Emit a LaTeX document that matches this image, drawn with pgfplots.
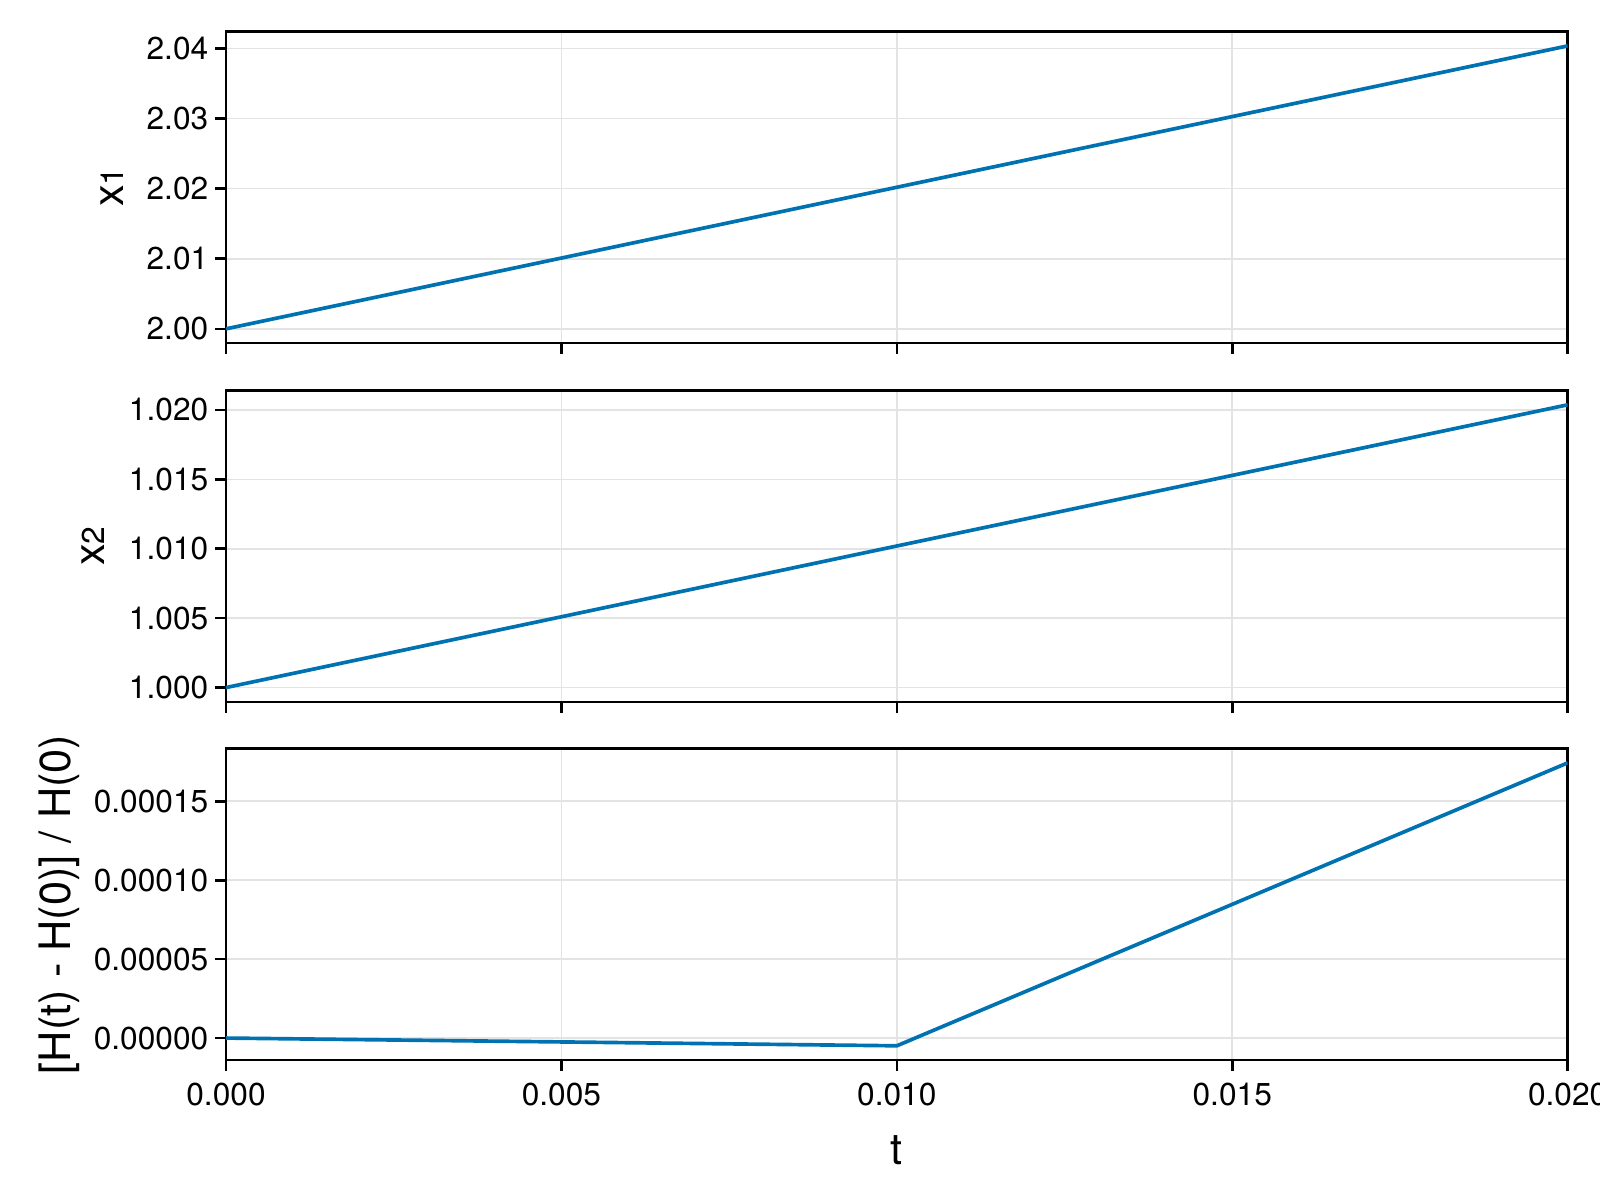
\documentclass[border=0pt]{standalone}
\usepackage{fontspec}
\setmainfont{TeX Gyre Heros}
\usepackage{pgfplots}
\pgfplotsset{compat=1.18}
\definecolor{mkblue}{HTML}{0072B2}
\definecolor{gridgray}{HTML}{E3E3E3}

\pgfplotsset{
  panel/.style={
    scale only axis, width=402.5pt, height=93.4pt,
    xmin=0, xmax=0.02,
    xtick={0,0.005,0.01,0.015,0.02},
    axis line style={line width=0.8pt},
    tick align=outside, major tick length=3.3pt,
    major tick style={black, line width=0.8pt},
    tick pos=left,
    grid=major, major grid style={gridgray, line width=0.5pt},
    scaled y ticks=false, scaled x ticks=false,
    tick label style={font=\fontsize{9.5}{11}\selectfont},
    yticklabel style={xshift=1.5pt},
    xlabel style={font=\fontsize{13}{15}\selectfont},
    anchor=south west,
  },
  ylab/.style={ylabel style={at={(axis description cs:#1,0.5)}, anchor=center,
    rotate=0, font=\fontsize{13}{15}\selectfont}},
  curve/.style={mkblue, line width=1.1pt, no markers},
}

\begin{document}
\begin{tikzpicture}
\useasboundingbox (0,0) rectangle (480pt,360pt);

% x1
\begin{axis}[panel, at={(67.8pt,257.1pt)},
  ymin=1.99798, ymax=2.04240,
  ytick={2.00,2.01,2.02,2.03,2.04},
  yticklabels={2.00,2.01,2.02,2.03,2.04},
  xticklabels={,,},
  ylabel={x{\fontsize{9.5}{9.5}\selectfont 1}}, ylab=-0.085,
]
\addplot[curve] coordinates {(0,2.0) (0.01,2.0202) (0.02,2.04037)};
\end{axis}

% x2
\begin{axis}[panel, at={(67.8pt,149.4pt)},
  ymin=0.99896, ymax=1.02139,
  ytick={1.000,1.005,1.010,1.015,1.020},
  yticklabels={1.000,1.005,1.010,1.015,1.020},
  xticklabels={,,},
  ylabel={x{\fontsize{9.5}{9.5}\selectfont 2}}, ylab=-0.099,
]
\addplot[curve] coordinates {(0,1.0) (0.01,1.0102) (0.02,1.02037)};
\end{axis}

% relative energy error
\begin{axis}[panel, at={(67.8pt,42pt)},
  ymin=-0.0000139, ymax=0.0001833,
  ytick={0,0.00005,0.0001,0.00015},
  yticklabels={0.00000,0.00005,0.00010,0.00015},
  xticklabels={0.000,0.005,0.010,0.015,0.020},
  xlabel={t},
  xlabel style={yshift=-2pt},
  ylabel={[H(t) - H(0)] / H(0)}, ylab=-0.1245,
]
\addplot[curve] coordinates {(0,0) (0.01,-0.0000049) (0.02,0.0001743)};
\end{axis}
\end{tikzpicture}
\end{document}
